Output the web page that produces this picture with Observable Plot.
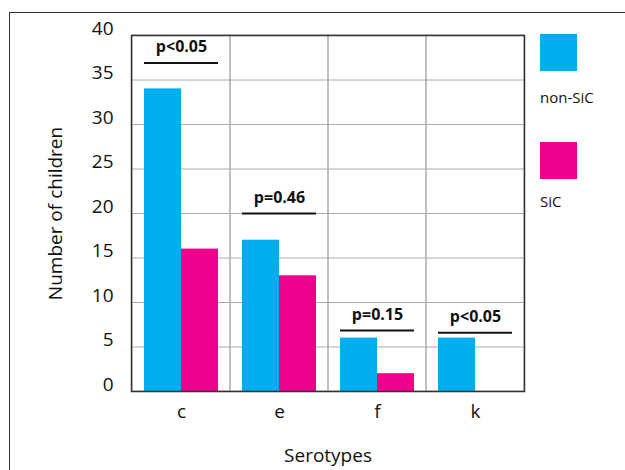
<!DOCTYPE html>
<html><head><meta charset="utf-8">
<script src="https://cdn.jsdelivr.net/npm/d3@7"></script>
<script src="https://cdn.jsdelivr.net/npm/@observablehq/plot@0.6"></script>
<style>
body{margin:0;background:#fff;font-family:"Open Sans",sans-serif;}
#wrap{position:relative;width:625px;height:470px;overflow:hidden;background:#fff;}
#border{position:absolute;left:9px;top:12px;width:700px;height:500px;border-left:1.5px solid #333;border-top:1.5px solid #333;}
#chart{position:absolute;left:0;top:0;}
.sw{position:absolute;left:540px;width:37px;height:37px;}
.lt{position:absolute;left:540px;font-size:15px;color:#111;line-height:1;}
</style></head>
<body>
<div id="wrap">
<div id="border"></div>
<div id="chart"></div>
<div class="sw" style="top:34px;background:#00AEEF"></div>
<div class="lt" style="top:90px">non-SiC</div>
<div class="sw" style="top:142px;background:#EC008C"></div>
<div class="lt" style="top:194px">SiC</div>
</div>
<script>
const serotypes = ["c", "e", "f", "k"];
const nonSiC = [34, 17, 6, 6];
const SiC = [16, 13, 2, 0];
const pLabels = ["p<0.05", "p=0.46", "p=0.15", "p<0.05"];
const pLineY = [36.9, 20.0, 6.85, 6.6];
const yTicks = [0, 5, 10, 15, 20, 25, 30, 35, 40];
const gridY = [5, 10, 15, 20, 25, 30, 35];

const rows = serotypes.map((s, i) => ({serotype: s, nonSiC: nonSiC[i], SiC: SiC[i], p: pLabels[i], pY: pLineY[i]}));

const chart = Plot.plot({
  width: 625, height: 470,
  marginLeft: 131, marginRight: 101, marginTop: 35, marginBottom: 79,
  style: {fontFamily: "Open Sans", fontSize: "19px", background: "transparent", color: "#111"},
  x: {domain: serotypes, padding: 0},
  y: {domain: [0, 40]},
  marks: [
    Plot.cell(serotypes, {x: d => d, fill: "none", stroke: "#aaa", strokeWidth: 1}),
    Plot.ruleY(gridY, {stroke: "#aaa", strokeWidth: 1}),
    Plot.barY(rows, {x: "serotype", y: "nonSiC", fill: "#00AEEF", insetLeft: 12, insetRight: 49}),
    Plot.barY(rows, {x: "serotype", y: "SiC", fill: "#EC008C", insetLeft: 49, insetRight: 12}),
    Plot.ruleY(rows, {y: "pY", x1: "serotype", x2: "serotype", insetLeft: 12, insetRight: 12, stroke: "#111", strokeWidth: 2}),
    Plot.text(rows, {x: "serotype", y: "pY", text: "p", dy: -16, fontWeight: "bold", fontSize: 16, fill: "#111"}),
    Plot.frame({stroke: "#333", strokeWidth: 1.5}),
    Plot.axisY(yTicks, {tickSize: 0, tickPadding: 18, dy: -7, fontSize: 19, label: null}),
    Plot.axisX({tickSize: 0, tickPadding: 13, fontSize: 19, label: null}),
    Plot.text(["Number of children"], {frameAnchor: "left", textAnchor: "middle", lineAnchor: "middle", rotate: -90, dx: -76, fontSize: 19, fill: "#111"}),
    Plot.text(["Serotypes"], {frameAnchor: "bottom", lineAnchor: "middle", dy: 64, fontSize: 19, fill: "#111"})
  ]
});
document.getElementById("chart").appendChild(chart);
</script>
</body></html>
